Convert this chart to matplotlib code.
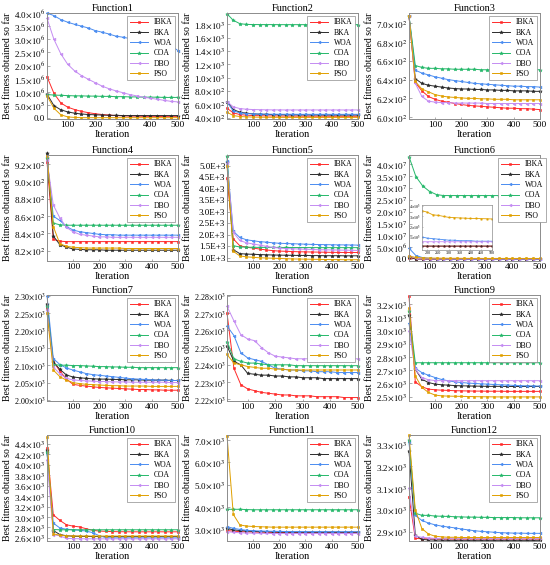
import math
import matplotlib
matplotlib.use('Agg')
import matplotlib.pyplot as plt
from matplotlib.ticker import FixedLocator, FixedFormatter

plt.rcParams['font.family'] = ['Liberation Serif', 'DejaVu Serif']
plt.rcParams['mathtext.fontset'] = 'stix'

ALGOS = ['IBKA', 'BKA', 'WOA', 'COA', 'DBO', 'PSO']
ITER_A = [1, 25, 50, 75, 100, 125, 150, 175, 200, 225, 250, 275, 300, 325, 350, 375, 400, 425, 450, 475, 500]
ITER_B = [25, 50, 75, 100, 125, 150, 175, 200, 225, 250, 275, 300, 325, 350, 375, 400, 425, 450, 475, 500]
XTICKS = [100, 200, 300, 400, 500]

# ---- Function1 (ITER_B)
f1_ibka = [1.58e6, 0.95e6, 0.58e6, 0.42e6, 0.33e6, 0.26e6, 0.21e6, 0.17e6, 0.14e6, 0.12e6, 0.10e6, 0.09e6, 0.08e6, 0.08e6, 0.07e6, 0.07e6, 0.07e6, 0.06e6, 0.06e6, 0.06e6]
f1_bka = [0.92e6, 0.48e6, 0.32e6, 0.24e6, 0.19e6, 0.16e6, 0.14e6, 0.13e6, 0.12e6, 0.11e6, 0.11e6, 0.10e6, 0.10e6, 0.10e6, 0.10e6, 0.10e6, 0.10e6, 0.10e6, 0.10e6, 0.10e6]
f1_woa = [4.00e6, 3.90e6, 3.75e6, 3.65e6, 3.57e6, 3.50e6, 3.43e6, 3.33e6, 3.27e6, 3.20e6, 3.12e6, 3.08e6, 3.03e6, 3.02e6, 3.02e6, 3.00e6, 2.93e6, 2.85e6, 2.75e6, 2.57e6]
f1_coa = [0.90e6, 0.88e6, 0.87e6, 0.86e6, 0.85e6, 0.85e6, 0.84e6, 0.84e6, 0.83e6, 0.83e6, 0.82e6, 0.82e6, 0.81e6, 0.81e6, 0.80e6, 0.80e6, 0.80e6, 0.79e6, 0.79e6, 0.79e6]
f1_dbo = [3.80e6, 3.00e6, 2.45e6, 2.05e6, 1.80e6, 1.62e6, 1.48e6, 1.35e6, 1.22e6, 1.12e6, 1.04e6, 0.97e6, 0.90e6, 0.85e6, 0.80e6, 0.76e6, 0.72e6, 0.68e6, 0.64e6, 0.62e6]
f1_pso = [0.85e6, 0.38e6, 0.13e6, 0.05e6, 0.03e6, 0.02e6, 0.02e6, 0.02e6, 0.02e6, 0.02e6, 0.02e6, 0.02e6, 0.02e6, 0.02e6, 0.02e6, 0.02e6, 0.02e6, 0.02e6, 0.02e6, 0.02e6]
f1_yticks = [0, 0.5e6, 1.0e6, 1.5e6, 2.0e6, 2.5e6, 3.0e6, 3.5e6, 4.0e6]

# ---- Function2 (ITER_A)
f2_ibka = [540, 470, 445, 435, 430, 427, 425, 424, 423, 422, 421, 421, 420, 420, 420, 420, 419, 419, 419, 419, 419]
f2_bka = [640, 520, 480, 465, 455, 450, 447, 445, 443, 442, 441, 440, 440, 439, 439, 438, 438, 438, 438, 438, 438]
f2_woa = [630, 500, 470, 460, 455, 452, 450, 450, 449, 449, 449, 448, 448, 448, 448, 448, 448, 448, 448, 448, 448]
f2_coa = [1958, 1860, 1810, 1798, 1797, 1796, 1796, 1796, 1795, 1795, 1795, 1795, 1795, 1795, 1795, 1795, 1795, 1795, 1795, 1795, 1795]
f2_dbo = [640, 560, 535, 525, 520, 518, 516, 515, 515, 514, 514, 514, 514, 514, 514, 514, 514, 514, 514, 514, 514]
f2_pso = [480, 430, 415, 410, 407, 405, 404, 403, 403, 402, 402, 402, 402, 402, 402, 402, 402, 402, 402, 402, 402]
f2_yticks = [400, 600, 800, 1000, 1200, 1400, 1600, 1800]

# ---- Function3 (ITER_A)
f3_ibka = [708, 637, 628, 622, 619, 617, 616, 614.5, 613.5, 612.5, 612, 611.5, 611, 610.5, 610, 609.5, 609.5, 609, 609, 608.5, 608]
f3_bka = [708, 641, 636, 634, 633, 632, 631, 630.5, 630, 630, 629.5, 629.5, 629, 629, 628.5, 628.5, 628, 628, 628, 627.5, 627.5]
f3_woa = [708, 650, 647, 645, 643, 641.5, 640, 639, 638, 637, 636, 635.5, 635, 634.5, 634, 633.5, 633, 633, 632.5, 632.5, 632]
f3_coa = [708, 655, 653, 652, 652, 651.5, 651.5, 651, 651, 651, 651, 650.5, 650.5, 650.5, 650.5, 650.5, 650.5, 650.5, 650.5, 650.5, 650.5]
f3_dbo = [708, 636, 622, 617, 616, 615.5, 615.5, 615, 615, 615, 615, 615, 614.5, 614.5, 614.5, 614.5, 614.5, 614.5, 614.5, 614.5, 614.5]
f3_pso = [708, 638, 630, 627, 624, 622.5, 621.5, 621, 620.5, 620, 620, 619.5, 619.5, 619, 619, 619, 618.5, 618.5, 618.5, 618.5, 618.5]
f3_yticks = [600, 620, 640, 660, 680, 700]

# ---- Function4 (ITER_A)
f4_ibka = [923, 833, 831, 830.5, 830.5, 830.5, 830.5, 830.5, 830.5, 830.5, 830.5, 830.5, 830.5, 830.5, 830.5, 830.5, 830.5, 830.5, 830.5, 830.5, 830.5]
f4_bka = [933, 837, 827, 824, 822, 821.5, 821, 821, 821, 820.5, 820.5, 820.5, 820.5, 820.5, 820.5, 820.5, 820.5, 820.5, 820.5, 820.5, 820.5]
f4_woa = [928, 860, 855, 848, 844, 842, 841, 840, 839, 838.5, 838.5, 838, 838, 838, 838, 838, 838, 838, 838, 838, 838]
f4_coa = [928, 852, 850, 849.5, 849.5, 849.5, 849.5, 849.5, 849.5, 849.5, 849.5, 849.5, 849.5, 849.5, 849.5, 849.5, 849.5, 849.5, 849.5, 849.5, 849.5]
f4_dbo = [925, 873, 858, 847, 842, 839, 838, 837, 836, 836, 835.5, 835.5, 835.5, 835.5, 835.5, 835.5, 835.5, 835.5, 835.5, 835.5, 835.5]
f4_pso = [930, 848, 828, 825, 824, 823.5, 823, 823, 823, 823, 823, 823, 822.5, 822.5, 822.5, 822.5, 822.5, 822.5, 822.5, 822.5, 822.5]
f4_yticks = [820, 840, 860, 880, 900, 920]

# ---- Function5 (ITER_A)
f5_ibka = [4450, 1820, 1520, 1460, 1420, 1380, 1340, 1310, 1290, 1280, 1270, 1260, 1255, 1250, 1245, 1240, 1235, 1232, 1230, 1230, 1230]
f5_bka = [5150, 1350, 1180, 1160, 1150, 1140, 1130, 1120, 1115, 1110, 1105, 1100, 1100, 1095, 1095, 1090, 1090, 1090, 1085, 1085, 1085]
f5_woa = [5200, 2150, 1880, 1780, 1740, 1700, 1680, 1650, 1630, 1620, 1610, 1600, 1590, 1580, 1575, 1570, 1565, 1560, 1560, 1555, 1550]
f5_coa = [5400, 1520, 1470, 1460, 1455, 1450, 1450, 1450, 1448, 1446, 1445, 1444, 1443, 1442, 1441, 1440, 1440, 1440, 1440, 1440, 1440]
f5_dbo = [5100, 2100, 1750, 1650, 1600, 1550, 1500, 1450, 1420, 1400, 1390, 1380, 1370, 1360, 1350, 1345, 1340, 1335, 1330, 1325, 1320]
f5_pso = [5000, 1280, 1080, 1040, 1020, 1000, 990, 980, 970, 960, 950, 945, 940, 935, 930, 925, 920, 920, 915, 915, 915]
f5_yticks = [1000, 1500, 2000, 2500, 3000, 3500, 4000, 4500, 5000]

# ---- Function6 (ITER_B)
f6_ibka = [5.0e5, 1.0e5, 3.0e4, 2.0e4, 1.5e4, 1.3e4, 1.2e4, 1.2e4, 1.2e4, 1.2e4, 1.2e4, 1.2e4, 1.2e4, 1.2e4, 1.2e4, 1.2e4, 1.2e4, 1.2e4, 1.2e4, 1.2e4]
f6_bka = [8.0e5, 1.5e5, 4.0e4, 2.0e4, 1.5e4, 1.4e4, 1.3e4, 1.3e4, 1.3e4, 1.3e4, 1.3e4, 1.3e4, 1.3e4, 1.3e4, 1.3e4, 1.3e4, 1.3e4, 1.3e4, 1.3e4, 1.3e4]
f6_woa = [4.6e6, 1.5e6, 6.0e5, 3.0e5, 2.0e5, 1.5e5, 1.0e5, 9.0e4, 8.5e4, 8.0e4, 7.5e4, 7.0e4, 7.0e4, 6.5e4, 6.5e4, 6.5e4, 6.0e4, 6.0e4, 6.0e4, 6.0e4]
f6_coa = [4.32e7, 3.48e7, 3.08e7, 2.85e7, 2.72e7, 2.68e7, 2.68e7, 2.68e7, 2.68e7, 2.68e7, 2.68e7, 2.68e7, 2.68e7, 2.68e7, 2.68e7, 2.68e7, 2.68e7, 2.68e7, 2.68e7, 2.50e7]
f6_dbo = [1.5e6, 3.0e5, 1.2e5, 8.0e4, 6.0e4, 5.5e4, 5.5e4, 5.5e4, 5.5e4, 5.5e4, 5.5e4, 5.5e4, 5.5e4, 5.5e4, 5.5e4, 5.5e4, 5.5e4, 5.5e4, 5.5e4, 5.5e4]
f6_pso = [1.2e6, 7.0e5, 5.0e5, 4.5e5, 4.0e5, 3.7e5, 3.55e5, 3.4e5, 3.15e5, 3.1e5, 3.0e5, 2.9e5, 2.88e5, 2.85e5, 2.83e5, 2.8e5, 2.8e5, 2.78e5, 2.77e5, 2.75e5]
f6_yticks = [0, 0.5e7, 1.0e7, 1.5e7, 2.0e7, 2.5e7, 3.0e7, 3.5e7, 4.0e7]
f6_inset_xticks = [200, 250, 300, 350, 400, 450, 500]
f6_inset_yticks = [1e5, 2e5, 3e5, 4e5]

# ---- Function7 (ITER_A)
f7_ibka = [2265, 2111, 2083, 2060, 2045, 2042, 2040, 2038, 2036, 2035, 2034, 2033, 2032, 2031, 2030, 2030, 2029, 2029, 2028, 2028, 2028]
f7_bka = [2277, 2110, 2088, 2072, 2066, 2064, 2062, 2061, 2060, 2060, 2059, 2059, 2058, 2058, 2058, 2057, 2057, 2057, 2057, 2056, 2056]
f7_woa = [2300, 2119, 2102, 2092, 2086, 2081, 2076, 2073, 2071, 2069, 2067, 2065, 2063, 2061, 2060, 2059, 2058, 2057, 2057, 2056, 2056]
f7_coa = [2270, 2102, 2100, 2100, 2099, 2099, 2098, 2097, 2096, 2096, 2095, 2095, 2094, 2094, 2093, 2093, 2093, 2093, 2093, 2093, 2093]
f7_dbo = [2260, 2095, 2075, 2062, 2058, 2056, 2055, 2054, 2053, 2053, 2052, 2052, 2052, 2051, 2051, 2051, 2051, 2051, 2051, 2050, 2050]
f7_pso = [2250, 2086, 2067, 2057, 2050, 2047, 2045, 2044, 2043, 2042, 2041, 2041, 2040, 2040, 2040, 2040, 2039, 2039, 2039, 2039, 2039]
f7_yticks = [2000, 2050, 2100, 2150, 2200, 2250, 2300]

# ---- Function8 (ITER_B)
f8_ibka = [2270, 2238, 2228.5, 2226, 2225, 2224, 2223.5, 2223, 2222.5, 2222.5, 2222, 2222, 2222, 2221.5, 2221.5, 2221.5, 2221.5, 2221, 2221, 2221]
f8_bka = [2251, 2242, 2240, 2235, 2234.5, 2234, 2234, 2233.5, 2233.5, 2233, 2233, 2232.5, 2232.5, 2232.5, 2232, 2232, 2232, 2232, 2232, 2232]
f8_woa = [2262.5, 2257, 2247, 2244, 2243, 2242, 2240, 2238, 2237.5, 2237, 2237, 2236.5, 2236.5, 2236, 2236, 2236, 2235.5, 2235.5, 2235.5, 2235.5]
f8_coa = [2253.5, 2243.5, 2242, 2241, 2241, 2240.5, 2240, 2240, 2240, 2240, 2239.5, 2239.5, 2239.5, 2239.5, 2239.5, 2239.5, 2239.5, 2239.5, 2239.5, 2239.5]
f8_dbo = [2274, 2265.5, 2257.5, 2255, 2254, 2250, 2247, 2245, 2244.5, 2244, 2243.5, 2243.5, 2243.5, 2243.5, 2243.5, 2243.5, 2243.5, 2243.5, 2243.5, 2243.5]
f8_pso = [2246, 2241, 2240, 2239, 2238.5, 2238, 2238, 2237.5, 2237.5, 2237, 2237, 2237, 2237, 2237, 2237, 2237, 2237, 2237, 2237, 2237]
f8_yticks = [2220, 2230, 2240, 2250, 2260, 2270, 2280]

# ---- Function9 (ITER_A)
f9_ibka = [3260, 2612, 2575, 2557, 2552, 2549, 2547, 2545, 2544, 2543, 2542, 2542, 2541, 2541, 2541, 2540, 2540, 2540, 2540, 2540, 2540]
f9_bka = [3120, 2707, 2632, 2607, 2595, 2590, 2587, 2584, 2582, 2581, 2580, 2579, 2578, 2578, 2578, 2577, 2577, 2577, 2577, 2577, 2577]
f9_woa = [3055, 2715, 2682, 2662, 2645, 2630, 2620, 2612, 2607, 2603, 2600, 2597, 2595, 2592, 2590, 2588, 2585, 2583, 2582, 2581, 2580]
f9_coa = [3150, 2757, 2757, 2757, 2757, 2757, 2757, 2757, 2757, 2757, 2757, 2757, 2757, 2757, 2757, 2757, 2757, 2757, 2757, 2757, 2757]
f9_dbo = [3000, 2707, 2645, 2628, 2622, 2621, 2621, 2621, 2621, 2621, 2621, 2621, 2621, 2621, 2621, 2621, 2621, 2621, 2621, 2621, 2621]
f9_pso = [3170, 2657, 2570, 2532, 2512, 2506, 2504, 2503, 2502, 2501, 2500, 2499, 2499, 2498, 2498, 2498, 2498, 2498, 2498, 2498, 2498]
f9_yticks = [2500, 2600, 2700, 2800, 2900, 3000, 3100, 3200]

# ---- Function10 (ITER_A)
f10_ibka = [4320, 3043, 2934, 2851, 2825, 2810, 2775, 2745, 2730, 2725, 2720, 2718, 2717, 2716, 2716, 2716, 2716, 2716, 2716, 2716, 2716]
f10_bka = [4280, 2740, 2664, 2640, 2632, 2628, 2627, 2626, 2626, 2625, 2625, 2625, 2625, 2625, 2625, 2625, 2625, 2625, 2625, 2625, 2625]
f10_woa = [4220, 2882, 2790, 2765, 2755, 2745, 2730, 2700, 2640, 2605, 2600, 2600, 2600, 2600, 2600, 2600, 2600, 2600, 2600, 2600, 2600]
f10_coa = [4250, 2760, 2755, 2755, 2755, 2755, 2755, 2755, 2755, 2755, 2755, 2755, 2755, 2755, 2755, 2755, 2755, 2755, 2755, 2755, 2755]
f10_dbo = [4100, 2660, 2640, 2590, 2585, 2583, 2582, 2581, 2581, 2581, 2581, 2581, 2581, 2581, 2581, 2581, 2581, 2581, 2581, 2581, 2581]
f10_pso = [4530, 2677, 2650, 2640, 2637, 2636, 2635, 2635, 2635, 2635, 2635, 2635, 2635, 2635, 2635, 2635, 2635, 2635, 2635, 2635, 2635]
f10_yticks = [2600, 2800, 3000, 3200, 3400, 3600, 3800, 4000, 4200, 4400]

# ---- Function11 (ITER_A)
f11_ibka = [2950, 2920, 2900, 2890, 2880, 2875, 2870, 2865, 2862, 2860, 2860, 2860, 2860, 2860, 2860, 2860, 2860, 2860, 2860, 2860, 2860]
f11_bka = [3050, 2980, 2950, 2930, 2910, 2900, 2895, 2890, 2885, 2880, 2878, 2876, 2875, 2875, 2875, 2875, 2875, 2875, 2875, 2875, 2875]
f11_woa = [3120, 3050, 3000, 2960, 2940, 2930, 2920, 2915, 2910, 2905, 2900, 2900, 2898, 2897, 2896, 2895, 2895, 2895, 2895, 2895, 2895]
f11_coa = [3900, 3900, 3900, 3890, 3880, 3880, 3880, 3880, 3880, 3880, 3880, 3880, 3880, 3880, 3880, 3880, 3880, 3880, 3880, 3880, 3880]
f11_dbo = [2900, 2870, 2850, 2840, 2830, 2825, 2820, 2815, 2815, 2815, 2815, 2815, 2815, 2815, 2815, 2815, 2815, 2815, 2815, 2815, 2815]
f11_pso = [7200, 3670, 3200, 3150, 3130, 3120, 3110, 3100, 3100, 3100, 3100, 3100, 3100, 3100, 3100, 3100, 3100, 3100, 3100, 3100, 3100]
f11_yticks = [3000, 4000, 5000, 6000, 7000]

# ---- Function12 (ITER_A)
f12_ibka = [3060, 2870, 2868, 2868, 2867, 2867, 2867, 2867, 2867, 2867, 2867, 2867, 2867, 2867, 2867, 2867, 2867, 2867, 2867, 2867, 2867]
f12_bka = [3270, 2885, 2865, 2863, 2862, 2862, 2861, 2861, 2861, 2861, 2861, 2861, 2861, 2861, 2861, 2861, 2861, 2861, 2861, 2861, 2861]
f12_woa = [3310, 2975, 2952, 2940, 2932, 2926, 2922, 2918, 2913, 2909, 2905, 2902, 2900, 2898, 2896, 2895, 2894, 2894, 2893, 2893, 2893]
f12_coa = [3320, 2985, 2975, 2975, 2972, 2971, 2970, 2969, 2968, 2967, 2967, 2966, 2966, 2965, 2965, 2965, 2965, 2964, 2964, 2964, 2964]
f12_dbo = [3100, 2880, 2875, 2872, 2870, 2870, 2870, 2870, 2870, 2870, 2870, 2870, 2870, 2870, 2870, 2870, 2870, 2870, 2870, 2870, 2870]
f12_pso = [3340, 3000, 2915, 2890, 2880, 2877, 2875, 2875, 2874, 2874, 2874, 2874, 2874, 2874, 2874, 2874, 2874, 2874, 2874, 2874, 2874]
f12_yticks = [2900, 3000, 3100, 3200, 3300]

# ---------------- styling ----------------
COLORS = ['#ff2a2a', '#2b2b2b', '#4a8cf0', '#25b86a', '#c48cf2', '#e0a000']
MARKERS = ['s', '*', '<', '*', '<', 's']
MSIZES = [1.7, 2.6, 2.0, 2.6, 2.0, 1.7]
FRAME = '#8c8c8c'


def sci_label(v, dec):
    if v == 0:
        return '0.0'
    e = int(math.floor(math.log10(abs(v)) + 1e-9))
    m = v / 10 ** e
    return f'{m:.{dec}f}' + r'$\times10^{%d}$' % e


def e_label(v):
    e = int(math.floor(math.log10(abs(v)) + 1e-9))
    m = v / 10 ** e
    return f'{m:.1f}E+{e}'


panels = [
    dict(t='Function1', x=ITER_B, s=[f1_ibka, f1_bka, f1_woa, f1_coa, f1_dbo, f1_pso], yt=f1_yticks, yl=(-3e4, 4.0e6), xl=(25, 500), dec=1, fmt='sci'),
    dict(t='Function2', x=ITER_A, s=[f2_ibka, f2_bka, f2_woa, f2_coa, f2_dbo, f2_pso], yt=f2_yticks, yl=(378, 1970), xl=(1, 500), dec=1, fmt='sci'),
    dict(t='Function3', x=ITER_A, s=[f3_ibka, f3_bka, f3_woa, f3_coa, f3_dbo, f3_pso], yt=f3_yticks, yl=(598, 711), xl=(1, 500), dec=1, fmt='sci'),
    dict(t='Function4', x=ITER_A, s=[f4_ibka, f4_bka, f4_woa, f4_coa, f4_dbo, f4_pso], yt=f4_yticks, yl=(808, 931), xl=(1, 500), dec=1, fmt='sci'),
    dict(t='Function5', x=ITER_A, s=[f5_ibka, f5_bka, f5_woa, f5_coa, f5_dbo, f5_pso], yt=f5_yticks, yl=(860, 5460), xl=(1, 500), dec=1, fmt='E'),
    dict(t='Function6', x=ITER_B, s=[f6_ibka, f6_bka, f6_woa, f6_coa, f6_dbo, f6_pso], yt=f6_yticks, yl=(-8e5, 4.39e7), xl=(25, 500), dec=1, fmt='sci'),
    dict(t='Function7', x=ITER_A, s=[f7_ibka, f7_bka, f7_woa, f7_coa, f7_dbo, f7_pso], yt=f7_yticks, yl=(1997, 2302), xl=(1, 500), dec=2, fmt='sci'),
    dict(t='Function8', x=ITER_B, s=[f8_ibka, f8_bka, f8_woa, f8_coa, f8_dbo, f8_pso], yt=f8_yticks, yl=(2219, 2280.5), xl=(25, 500), dec=2, fmt='sci'),
    dict(t='Function9', x=ITER_A, s=[f9_ibka, f9_bka, f9_woa, f9_coa, f9_dbo, f9_pso], yt=f9_yticks, yl=(2467, 3270), xl=(1, 500), dec=1, fmt='sci'),
    dict(t='Function10', x=ITER_A, s=[f10_ibka, f10_bka, f10_woa, f10_coa, f10_dbo, f10_pso], yt=f10_yticks, yl=(2540, 4570), xl=(1, 500), dec=1, fmt='sci'),
    dict(t='Function11', x=ITER_A, s=[f11_ibka, f11_bka, f11_woa, f11_coa, f11_dbo, f11_pso], yt=f11_yticks, yl=(2480, 7230), xl=(1, 500), dec=1, fmt='sci'),
    dict(t='Function12', x=ITER_A, s=[f12_ibka, f12_bka, f12_woa, f12_coa, f12_dbo, f12_pso], yt=f12_yticks, yl=(2858, 3342), xl=(1, 500), dec=1, fmt='sci'),
]

W, H = 550, 565
fig = plt.figure(figsize=(W / 100, H / 100), dpi=100)
fig.patch.set_facecolor('white')

col_left = [47, 227, 409]
row_top = [13, 155, 295, 435]
aw, ah = 131, 106


def style_axes(ax, ysize, lw=0.7):
    for sp in ax.spines.values():
        sp.set_color(FRAME)
        sp.set_linewidth(lw)
    ax.tick_params(direction='in', length=1.8, width=0.5, color=FRAME, pad=1.5)
    ax.tick_params(axis='x', labelsize=6.8)
    ax.tick_params(axis='y', labelsize=ysize, pad=1.2)


for i, p in enumerate(panels):
    r, c = divmod(i, 3)
    l = col_left[c]
    t = row_top[r]
    ax = fig.add_axes([l / W, 1 - (t + ah) / H, aw / W, ah / H])
    for k, ser in enumerate(p['s']):
        ax.plot(p['x'], ser, color=COLORS[k], marker=MARKERS[k], markersize=MSIZES[k],
                markeredgewidth=0.4, linewidth=0.7, label=ALGOS[k], clip_on=False)
    ax.set_xlim(*p['xl'])
    ax.set_ylim(*p['yl'])
    ax.xaxis.set_major_locator(FixedLocator(XTICKS))
    ax.xaxis.set_major_formatter(FixedFormatter([str(v) for v in XTICKS]))
    ax.yaxis.set_major_locator(FixedLocator(p['yt']))
    if p['fmt'] == 'E':
        labs = [e_label(v) for v in p['yt']]
    else:
        labs = [sci_label(v, p['dec']) for v in p['yt']]
    ax.yaxis.set_major_formatter(FixedFormatter(labs))
    style_axes(ax, 5.8 if p['dec'] == 2 else 6.5)
    ax.set_title(p['t'], fontsize=7.5, pad=1.5)
    ax.set_xlabel('Iteration', fontsize=7.5, labelpad=0.5)
    ax.set_ylabel('Best fitness obtained so far', fontsize=7)
    ax.yaxis.set_label_coords(-0.27, 0.5)
    anchor = (1.0 + 9 / aw, 1.0) if p['t'] == 'Function6' else (1.0, 1.0)
    leg = ax.legend(loc='upper right', bbox_to_anchor=anchor, fontsize=5.5, frameon=True,
                    fancybox=False, edgecolor=FRAME, framealpha=1, borderpad=0.35,
                    labelspacing=0.3, handlelength=2.4, handletextpad=0.8,
                    borderaxespad=0.35)
    leg.get_frame().set_linewidth(0.5)
    leg.set_zorder(10)

    if p['t'] == 'Function6':
        il, it, iw, ih = 422, 205, 70, 45
        ins = fig.add_axes([il / W, 1 - (it + ih) / H, iw / W, ih / H])
        for k, ser in enumerate(p['s']):
            if ALGOS[k] == 'COA':
                continue
            ins.plot(p['x'], ser, color=COLORS[k], marker=MARKERS[k], markersize=MSIZES[k] * 0.6,
                     markeredgewidth=0.3, linewidth=0.6)
        ins.set_xlim(175, 500)
        ins.set_ylim(-2.5e4, 4.1e5)
        ins.xaxis.set_major_locator(FixedLocator(f6_inset_xticks))
        ins.xaxis.set_major_formatter(FixedFormatter([str(v) for v in f6_inset_xticks]))
        ins.yaxis.set_major_locator(FixedLocator(f6_inset_yticks))
        ins.yaxis.set_major_formatter(FixedFormatter(
            [r'%d$\times10^{5}$' % round(v / 1e5) for v in f6_inset_yticks]))
        for sp in ins.spines.values():
            sp.set_color(FRAME)
            sp.set_linewidth(0.5)
        ins.tick_params(direction='in', length=1, width=0.4, color=FRAME, labelsize=3, pad=0.8)

fig.savefig('out.png', dpi=100, facecolor='white')
